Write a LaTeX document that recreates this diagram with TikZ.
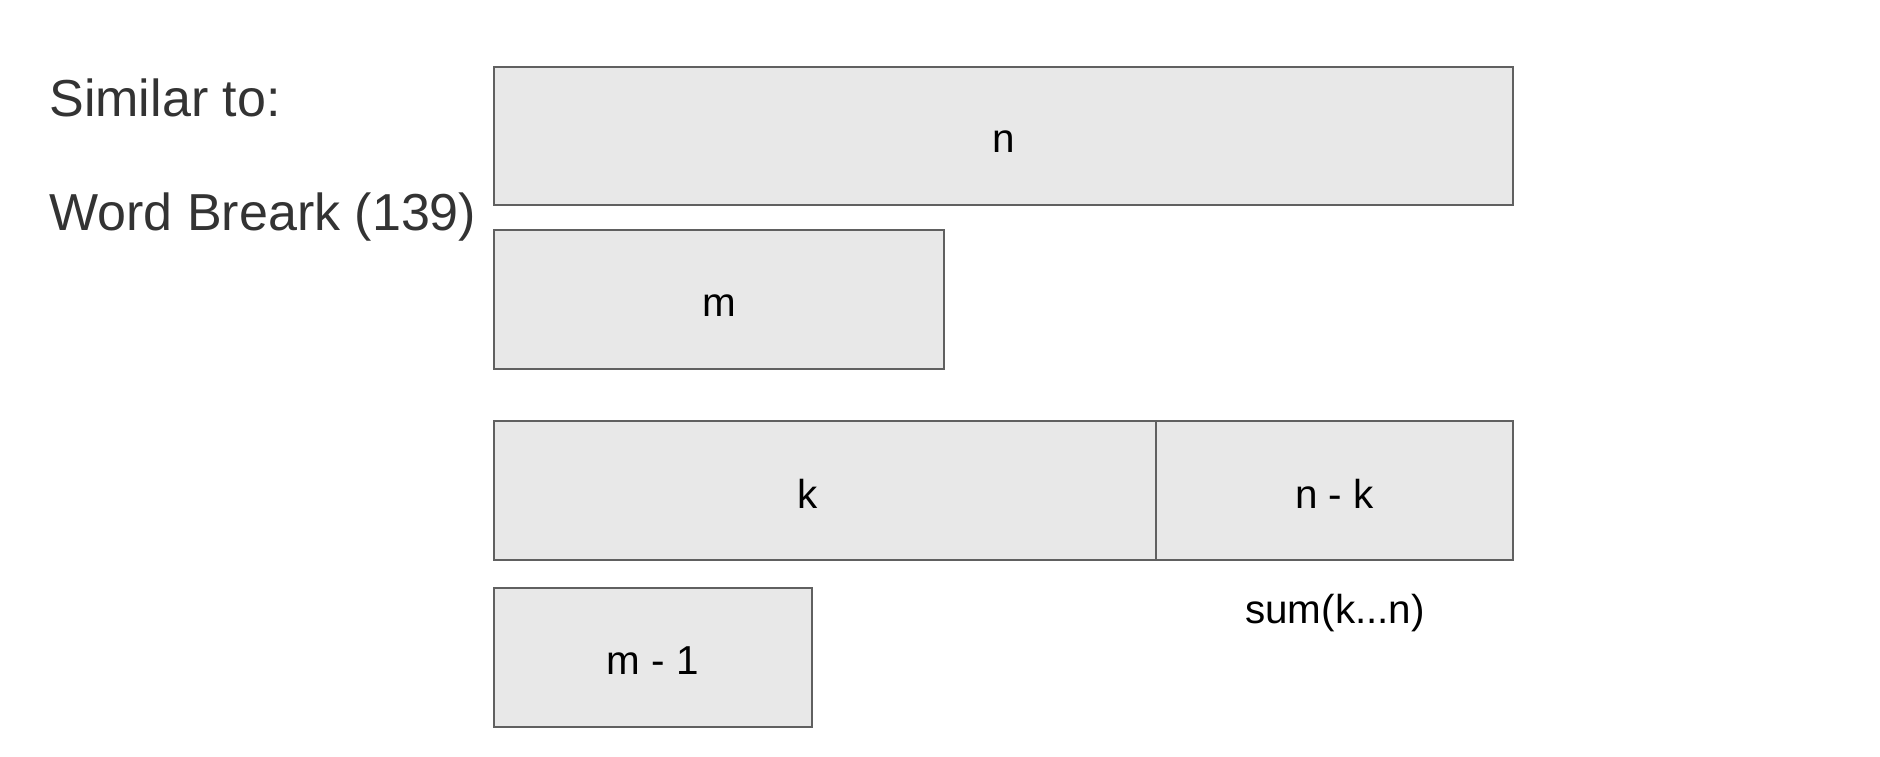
\documentclass[tikz,border=0pt]{standalone}
\usepackage{fontspec}
\setmainfont{Liberation Sans}
\usepackage{xcolor}
\definecolor{cell-fill}{HTML}{E8E8E8}
\definecolor{cell-line}{HTML}{606060}
\definecolor{note-text}{HTML}{333333}
\usepackage{tikz}
\newcommand{\celltext}[2]{\raisebox{-#1}[\height][\depth]{#2}}

\begin{document}
\begin{tikzpicture}[
    cell/.style={draw=cell-line, fill=cell-fill, line width=0.7pt, inner sep=0pt,
        outer sep=0pt, anchor=north west, font=\fontsize{11.5}{14}\selectfont},
    note/.style={anchor=west, text=note-text, font=\fontsize{14.8}{18}\selectfont}
]

    % Page
    \useasboundingbox (0, 0) rectangle (18.8, 7.56);

    % Notes
    \node[note] (similar) at (0.37, 6.58) {Similar to:};
    \node[note] (wordbreak) at (0.37, 5.39) {Word Breark (139)};

    % Top rows
    \node[cell, minimum width=10.19cm, minimum height=1.38cm] (nbox) at (4.94, 6.89) {\celltext{0.06cm}{n}};
    \node[cell, minimum width=4.50cm, minimum height=1.39cm] (mbox) at (4.94, 5.26) {\celltext{0.06cm}{m}};

    % Split row
    \node[cell, minimum width=6.62cm, minimum height=1.39cm] (kbox) at (4.94, 3.35) {\celltext{0.03cm}{\kern-0.34cm k}};
    \node[cell, minimum width=3.57cm, minimum height=1.39cm] (nkbox) at (kbox.north east) {\celltext{0.03cm}{n - k}};
    \node[font=\fontsize{11.5}{14}\selectfont] (sumlabel) at (13.35, 1.43) {sum(k...n)};

    % Bottom row
    \node[cell, minimum width=3.18cm, minimum height=1.39cm] (mmbox) at (4.94, 1.68) {\celltext{0.03cm}{m - 1}};

\end{tikzpicture}
\end{document}
